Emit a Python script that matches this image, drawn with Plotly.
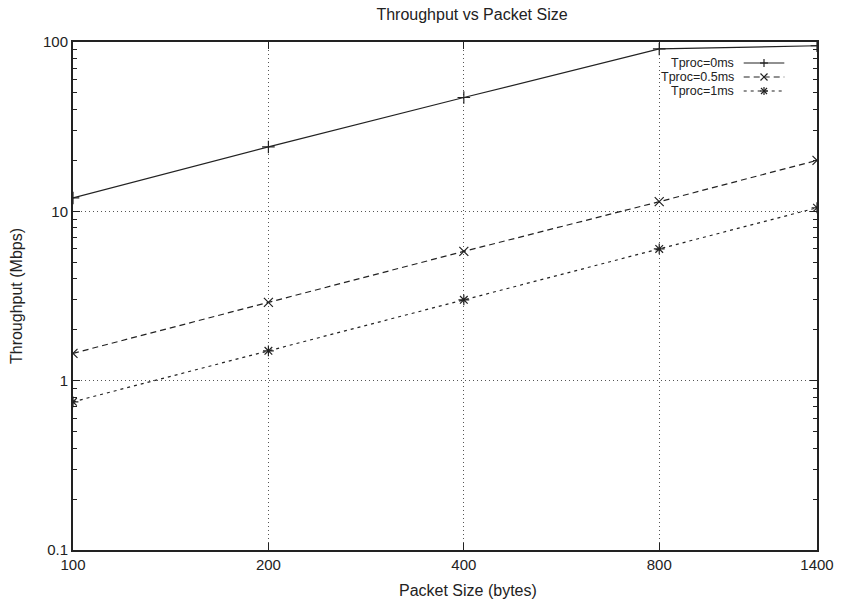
import plotly.graph_objects as go

packet_sizes = [100, 200, 400, 800, 1400]
tick_labels = ["100", "200", "400", "800", "1400"]
tp_0ms = [12.0, 24.0, 47.0, 91.0, 95.0]
tp_05ms = [1.45, 2.9, 5.8, 11.4, 20.0]
tp_1ms = [0.75, 1.5, 3.0, 6.0, 10.5]
series_names = ["Tproc=0ms", "Tproc=0.5ms", "Tproc=1ms"]

font_family = "Liberation Sans, Arial, sans-serif"
ink = "#222222"

W, H = 846, 604
ML, MR, MT, MB = 73, 22, 42, 54
PW, PH = W - ML - MR, H - MT - MB

def px_x(px):
    return (px - ML) / PW

def px_y(py):
    return 1 - (py - MT) / PH

fig = go.Figure()
dashes = ["solid", "6px,4px", "3px,4px"]
symbols = ["cross-thin-open", "x-thin-open", "asterisk-open"]
for name, ys, dash, sym in zip(series_names, [tp_0ms, tp_05ms, tp_1ms], dashes, symbols):
    fig.add_trace(go.Scatter(
        x=packet_sizes, y=ys, name=name, mode="lines+markers", showlegend=False,
        line=dict(color=ink, width=1.2, dash=dash),
        marker=dict(symbol=sym, size=9, color=ink, line=dict(color=ink, width=1.2)),
    ))

# Custom gnuplot-style legend: right-aligned text, sample line on its right
shapes = []
annotations = []
text_right = 742
sample_x0, sample_x1 = 750, 791
marker_x = (sample_x0 + sample_x1) / 2
row_y = [63, 77, 91]
glyphs = {
    "cross-thin-open": [((-4, 0), (4, 0)), ((0, -4), (0, 4))],
    "x-thin-open": [((-3.5, -3.5), (3.5, 3.5)), ((-3.5, 3.5), (3.5, -3.5))],
    "asterisk-open": [((-4, 0), (4, 0)), ((0, -4), (0, 4)),
                      ((-3, -3), (3, 3)), ((-3, 3), (3, -3))],
}
for name, dash, sym, ry in zip(series_names, dashes, symbols, row_y):
    annotations.append(dict(
        text=name, xref="paper", yref="paper", x=px_x(text_right), y=px_y(ry),
        xanchor="right", yanchor="middle", showarrow=False,
        font=dict(size=12.5, color=ink, family=font_family),
    ))
    shapes.append(dict(
        type="line", xref="paper", yref="paper",
        x0=px_x(sample_x0), x1=px_x(sample_x1), y0=px_y(ry), y1=px_y(ry),
        line=dict(color=ink, width=1.2, dash=dash),
    ))
    for (a, b) in glyphs[sym]:
        shapes.append(dict(
            type="line", xref="paper", yref="paper",
            xsizemode="pixel", ysizemode="pixel",
            xanchor=px_x(marker_x), yanchor=px_y(ry),
            x0=a[0], y0=a[1], x1=b[0], y1=b[1],
            line=dict(color=ink, width=1.2),
        ))

# x-axis title (centred slightly right of the plot centre, as in the reference)
annotations.append(dict(
    text="Packet Size (bytes)", xref="paper", yref="paper",
    x=px_x(472), y=px_y(590), xanchor="center", yanchor="middle", showarrow=False,
    font=dict(size=16, color=ink, family=font_family),
))

minor_y = [k * 10.0 ** e for e in (-1, 0, 1) for k in range(2, 10)]

fig.update_layout(
    width=W, height=H,
    margin=dict(l=ML, r=MR, t=MT, b=MB),
    paper_bgcolor="white", plot_bgcolor="white",
    font=dict(family=font_family, size=15, color=ink),
    title=dict(text="Throughput vs Packet Size", x=472 / W, xref="container", xanchor="center",
               y=1 - 14 / H, yref="container", yanchor="middle", font=dict(size=16)),
    showlegend=False,
    shapes=shapes,
    annotations=annotations,
)
fig.update_xaxes(
    type="log", range=[2, 3.14613], tickvals=packet_sizes, ticktext=tick_labels,
    showline=True, linecolor=ink, linewidth=2, mirror="allticks",
    ticks="inside", ticklen=7, tickcolor=ink,
    showgrid=True, gridcolor="#555555", griddash="1px,3px", gridwidth=1,
    zeroline=False,
    tickfont=dict(size=15),
)
fig.update_yaxes(
    type="log", range=[-1, 2], tickvals=[0.1, 1, 10, 100], ticktext=["0.1", "1", "10", "100"],
    showline=True, linecolor=ink, linewidth=2, mirror="allticks",
    ticks="inside", ticklen=7, tickcolor=ink,
    minor=dict(ticks="inside", ticklen=4, tickcolor=ink, tickvals=minor_y, showgrid=False),
    showgrid=True, gridcolor="#555555", griddash="1px,3px", gridwidth=1,
    zeroline=False,
    title=dict(text="Throughput (Mbps)", font=dict(size=16), standoff=16),
    tickfont=dict(size=15),
)

fig.write_html("out.html")
